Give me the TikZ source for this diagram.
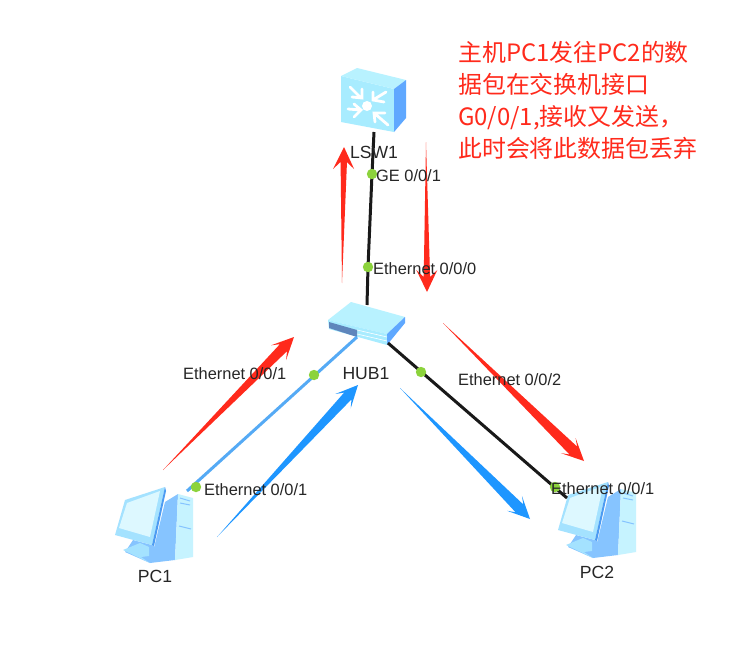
\documentclass[tikz,border=0pt]{standalone}
\usepackage{fontspec}
\setmainfont{Liberation Sans}
\newfontfamily\cjkfont{Noto Sans CJK SC}
\usetikzlibrary{calc}
\definecolor{faceC}{HTML}{A8ECFF}
\definecolor{topC}{HTML}{B8F2FF}
\definecolor{sideC}{HTML}{5FA8FF}
\definecolor{midC}{HTML}{86C4FF}
\definecolor{frameC}{HTML}{A4E2FF}
\definecolor{scrC}{HTML}{DDF8FF}
\definecolor{towerC}{HTML}{C6F3FF}
\definecolor{edgeC}{HTML}{4C9BF2}
\definecolor{portC}{HTML}{5F86BC}
\definecolor{redA}{HTML}{FF2A1C}
\definecolor{blueA}{HTML}{1E96FF}
\definecolor{blueL}{HTML}{55AAF5}
\definecolor{dotC}{HTML}{8CD33C}
\tikzset{
  x=1pt,y=-1pt,
  linkb/.style={draw=black!90,line width=3pt},
  linkl/.style={draw=blueL,line width=3pt},
  dot/.style={circle,inner sep=0pt,minimum size=10.5pt},
  portlab/.style={font=\fontsize{16.4}{18}\selectfont,text=black!85,inner sep=0pt,anchor=west},
  devlab/.style={font=\fontsize{17.6}{19}\selectfont,text=black!85,inner sep=0pt},
  note/.style={font=\cjkfont\fontsize{23.9}{32.2}\selectfont,text=redA,inner sep=0pt,anchor=north west,align=left},
  pc/.pic={
    \fill[midC] (133,540) -- (152,545) -- (175,560) -- (150,563) -- (125,552) -- cycle;
    \fill[frameC] (125,500) -- (165,487) -- (152,545) -- (115,535) -- cycle;
    \fill[edgeC] (165,487) -- (166,491) -- (154,546) -- (152,545) -- cycle;
    \fill[scrC] (127,503) -- (160,491) -- (150,537) -- (119,528) -- cycle;
    \fill[frameC] (123,550) -- (140,543) -- (149,547) -- (149,556) -- (141,557) -- (150,563) -- cycle;
    \fill[midC] (165,502) -- (178,494) -- (175,560) -- (153,552) -- cycle;
    \fill[towerC] (178,494) -- (193,498) -- (193,557) -- (175,560) -- cycle;
    \draw[midC,line width=1pt] (180,498) -- (190,501) (180,503) -- (190,505) (179,526) -- (191,529);
  }
}
% #1 tail, #2 tip, #3 colour, #4 half width of shaft at head
\newcommand{\taperarrow}[4]{%
  \fill[#3] (#1)
    -- ($(#2)!15pt!(#1)!#4!90:(#1)$)
    -- ($(#2)!22pt!(#1)!10.5pt!90:(#1)$)
    -- (#2)
    -- ($(#2)!22pt!(#1)!10.5pt!-90:(#1)$)
    -- ($(#2)!15pt!(#1)!#4!-90:(#1)$)
    -- cycle;}
\begin{document}
\begin{tikzpicture}
\useasboundingbox (0,0) rectangle (744,667);
\fill[white] (0,0) rectangle (744,667);

% switch
\fill[faceC] (341,76) -- (394,89) -- (394,132) -- (341,122) -- cycle;
\fill[topC] (341,76) -- (357,68) -- (406,80) -- (394,89) -- cycle;
\fill[sideC] (394,89) -- (406,80) -- (406,118) -- (394,132) -- cycle;
\begin{scope}[white,line width=2.8pt,line cap=round]
  \fill (367,106) circle (5);
  \draw (350,87) -- (361,98) (362,89) -- (362,98) -- (352,97);
  \draw (386,92) -- (373,100) (373,92) -- (373,100) -- (384,102);
  \draw (348,109) -- (361,110) (354,104) -- (361,110) -- (354,117);
  \draw (388,125) -- (374,113) (375,122) -- (374,113) -- (385,113);
\end{scope}

% hub
\fill[topC] (328,320) -- (351,302) -- (405,317) -- (387,334) -- cycle;
\fill[faceC] (328,320) -- (387,334) -- (387,345) -- (329,329) -- cycle;
\fill[sideC] (387,334) -- (405,317) -- (405,323) -- (387,345) -- cycle;
\fill[portC] (329,322) -- (357,330) -- (357,337) -- (329,328) -- cycle;
\draw[white,line width=.6pt] (357,334) -- (387,341) (357,330) -- (387,337);

% pcs
\pic at (0,0) {pc};
\pic at (443,-5) {pc};

% anchors of the links
\coordinate (swb) at (374,132);
\coordinate (hubt) at (367,305);
\coordinate (hubl) at (357,337);
\coordinate (hubr) at (388,343);
\coordinate (pca) at (187,491);
\coordinate (pcb) at (567,498);
\node[dot] (d1) at (372,174) {};
\node[dot] (d2) at (368,267) {};
\node[dot] (d3) at (314,375) {};
\node[dot] (d4) at (421,372) {};
\node[dot] (d5) at (196,487) {};
\node[dot] (d6) at (555,487) {};

\draw[linkb] (swb) -- (d1.center) -- (d2.center) -- (hubt);
\draw[linkl] (hubl) -- (pca);
\draw[linkb] (hubr) -- (pcb);
\foreach \d in {d1,d2,d3,d4,d5,d6} \fill[dotC] (\d.center) circle (5.2);

% traffic arrows
\coordinate (r1t) at (342,283); \coordinate (r1h) at (344,147);
\coordinate (r2t) at (426,142); \coordinate (r2h) at (427,292);
\coordinate (r3t) at (163,470); \coordinate (r3h) at (294,337);
\coordinate (r4t) at (443,323); \coordinate (r4h) at (584,461);
\coordinate (b1t) at (217,537); \coordinate (b1h) at (358,385);
\coordinate (b2t) at (400,388); \coordinate (b2h) at (530,519);
\taperarrow{r1t}{r1h}{redA}{3.2pt}
\taperarrow{r2t}{r2h}{redA}{3.2pt}
\taperarrow{r3t}{r3h}{redA}{5pt}
\taperarrow{r4t}{r4h}{redA}{5.5pt}
\taperarrow{b1t}{b1h}{blueA}{5pt}
\taperarrow{b2t}{b2h}{blueA}{5.5pt}

% labels
\node[devlab] (lsw) at (374,152) {LSW1};
\node[devlab] (hub) at (366,374) {HUB1};
\node[devlab] (pc1) at (155,576) {PC1};
\node[devlab] (pc2) at (597,572) {PC2};
\node[portlab] (p1) at (376,176) {GE 0/0/1};
\node[portlab] (p2) at (373,269) {Ethernet 0/0/0};
\node[portlab] (p3) at (183,374) {Ethernet 0/0/1};
\node[portlab] (p4) at (458,380) {Ethernet 0/0/2};
\node[portlab] (p5) at (204,490) {Ethernet 0/0/1};
\node[portlab] (p6) at (551,489) {Ethernet 0/0/1};
\node[note] (n) at (458,41) {主机PC1发往PC2的数\\据包在交换机接口\\G0/0/1,接收又发送，\\此时会将此数据包丢弃};
\end{tikzpicture}
\end{document}
